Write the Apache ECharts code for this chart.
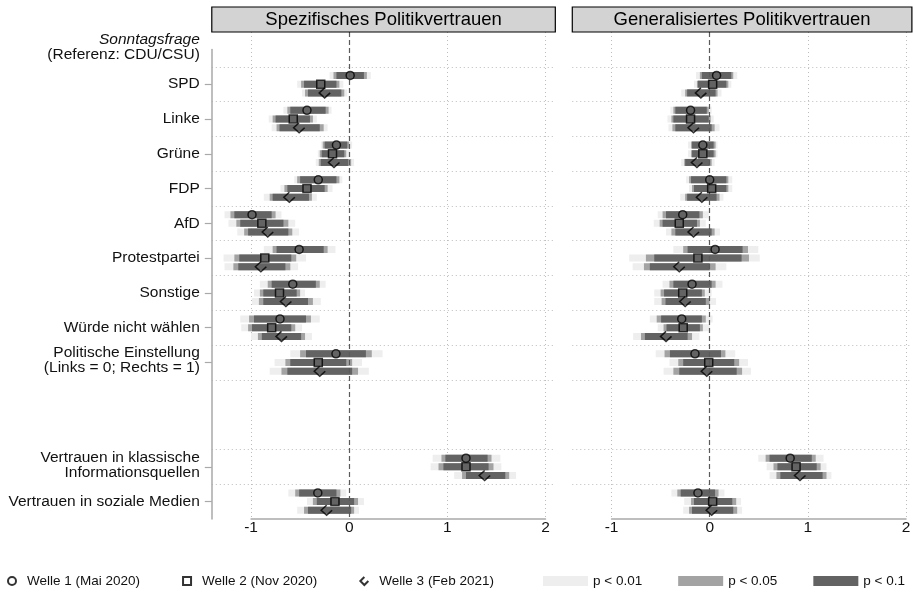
<!DOCTYPE html>
<html>
<head>
<meta charset="utf-8">
<script src="https://cdn.jsdelivr.net/npm/echarts@6/dist/echarts.min.js"></script>
<style>
  html, body { margin: 0; padding: 0; background: #fff; }
  #main { width: 913px; height: 593px; }
</style>
</head>
<body>
<div id="main"></div>
<script>
// Kategorien der y-Achse (Kopfzeile, Parteien, zwei Leerzeilen, Vertrauen)
const yCats = [
  'Sonntagsfrage\n(Referenz: CDU/CSU)', 'SPD', 'Linke', 'Grüne', 'FDP', 'AfD',
  'Protestpartei', 'Sonstige', 'Würde nicht wählen',
  'Politische Einstellung\n(Links = 0; Rechts = 1)', ' ', '  ',
  'Vertrauen in klassische\nInformationsquellen', 'Vertrauen in soziale Medien'
];
const rows = [
  'SPD', 'Linke', 'Grüne', 'FDP', 'AfD', 'Protestpartei', 'Sonstige',
  'Würde nicht wählen', 'Politische Einstellung\n(Links = 0; Rechts = 1)',
  'Vertrauen in klassische\nInformationsquellen', 'Vertrauen in soziale Medien'
];
const xTicks = [-1, 0, 1, 2];
const panelTitles = ['Spezifisches Politikvertrauen', 'Generalisiertes Politikvertrauen'];
const waves = ['Welle 1 (Mai 2020)', 'Welle 2 (Nov 2020)', 'Welle 3 (Feb 2021)'];
const levels = ['p < 0.01', 'p < 0.05', 'p < 0.1'];

// je Zeile: [u99, u95, u90, Koeffizient, o90, o95, o99]
const spezW1 = [
  [-0.20, -0.16, -0.13, 0.01, 0.15, 0.18, 0.22],
  [-0.67, -0.63, -0.60, -0.43, -0.24, -0.21, -0.18],
  [-0.29, -0.27, -0.25, -0.13, -0.02, 0.00, 0.03],
  [-0.56, -0.53, -0.50, -0.315, -0.13, -0.10, -0.07],
  [-1.27, -1.21, -1.17, -0.99, -0.79, -0.75, -0.69],
  [-0.87, -0.78, -0.74, -0.51, -0.26, -0.22, -0.14],
  [-0.91, -0.83, -0.79, -0.575, -0.34, -0.30, -0.24],
  [-1.11, -1.02, -0.97, -0.705, -0.44, -0.39, -0.30],
  [-0.60, -0.50, -0.44, -0.135, 0.17, 0.23, 0.34],
  [0.85, 0.94, 0.98, 1.19, 1.41, 1.45, 1.54],
  [-0.62, -0.55, -0.51, -0.32, -0.13, -0.09, -0.03]
];
const spezW2 = [
  [-0.53, -0.49, -0.46, -0.29, -0.13, -0.10, -0.06],
  [-0.82, -0.78, -0.75, -0.57, -0.40, -0.37, -0.33],
  [-0.32, -0.30, -0.28, -0.17, -0.05, -0.03, 0.01],
  [-0.70, -0.66, -0.63, -0.43, -0.25, -0.22, -0.17],
  [-1.23, -1.15, -1.11, -0.89, -0.67, -0.62, -0.55],
  [-1.28, -1.17, -1.12, -0.86, -0.59, -0.54, -0.44],
  [-0.97, -0.91, -0.875, -0.71, -0.535, -0.50, -0.45],
  [-1.10, -1.03, -0.99, -0.79, -0.59, -0.55, -0.48],
  [-0.76, -0.65, -0.60, -0.315, -0.03, 0.03, 0.13],
  [0.83, 0.91, 0.96, 1.19, 1.42, 1.47, 1.55],
  [-0.43, -0.37, -0.33, -0.145, 0.05, 0.09, 0.15]
];
const spezW3 = [
  [-0.48, -0.45, -0.42, -0.25, -0.08, -0.05, -0.02],
  [-0.79, -0.74, -0.71, -0.51, -0.30, -0.26, -0.22],
  [-0.34, -0.31, -0.29, -0.155, -0.01, 0.02, 0.05],
  [-0.87, -0.81, -0.78, -0.61, -0.41, -0.38, -0.33],
  [-1.14, -1.07, -1.03, -0.83, -0.62, -0.58, -0.51],
  [-1.27, -1.18, -1.13, -0.90, -0.65, -0.60, -0.52],
  [-0.99, -0.92, -0.875, -0.645, -0.42, -0.37, -0.29],
  [-1.00, -0.93, -0.89, -0.69, -0.49, -0.45, -0.38],
  [-0.81, -0.69, -0.63, -0.30, 0.03, 0.09, 0.20],
  [1.07, 1.15, 1.19, 1.38, 1.59, 1.63, 1.70],
  [-0.53, -0.46, -0.42, -0.23, 0.02, 0.05, 0.10]
];
const genW1 = [
  [-0.14, -0.10, -0.08, 0.07, 0.22, 0.24, 0.28],
  [-0.40, -0.37, -0.35, -0.195, -0.03, -0.01, 0.02],
  [-0.22, -0.19, -0.18, -0.07, 0.04, 0.06, 0.08],
  [-0.24, -0.21, -0.19, 0.00, 0.17, 0.19, 0.23],
  [-0.53, -0.48, -0.445, -0.275, -0.105, -0.07, -0.01],
  [-0.37, -0.27, -0.225, 0.055, 0.335, 0.39, 0.495],
  [-0.48, -0.41, -0.37, -0.18, 0.02, 0.06, 0.13],
  [-0.61, -0.54, -0.495, -0.285, -0.08, -0.04, 0.03],
  [-0.55, -0.46, -0.405, -0.15, 0.115, 0.16, 0.26],
  [0.495, 0.57, 0.61, 0.82, 1.04, 1.08, 1.16],
  [-0.39, -0.33, -0.295, -0.12, 0.055, 0.09, 0.15]
];
const genW2 = [
  [-0.16, -0.13, -0.12, 0.03, 0.17, 0.19, 0.22],
  [-0.43, -0.39, -0.37, -0.195, -0.01, 0.01, 0.04],
  [-0.22, -0.19, -0.18, -0.07, 0.04, 0.06, 0.08],
  [-0.21, -0.18, -0.16, 0.02, 0.17, 0.19, 0.23],
  [-0.57, -0.51, -0.48, -0.31, -0.13, -0.10, -0.04],
  [-0.82, -0.65, -0.565, -0.12, 0.325, 0.40, 0.51],
  [-0.565, -0.50, -0.465, -0.275, -0.08, -0.05, 0.02],
  [-0.53, -0.47, -0.44, -0.27, -0.10, -0.07, 0.00],
  [-0.41, -0.32, -0.27, -0.01, 0.25, 0.30, 0.39],
  [0.58, 0.65, 0.69, 0.88, 1.09, 1.13, 1.19],
  [-0.26, -0.19, -0.16, 0.03, 0.23, 0.27, 0.32]
];
const genW3 = [
  [-0.29, -0.25, -0.23, -0.09, 0.06, 0.08, 0.12],
  [-0.42, -0.38, -0.35, -0.165, 0.02, 0.05, 0.10],
  [-0.29, -0.26, -0.25, -0.13, 0.00, 0.02, 0.05],
  [-0.30, -0.25, -0.23, -0.08, 0.07, 0.10, 0.14],
  [-0.445, -0.39, -0.35, -0.165, 0.02, 0.05, 0.105],
  [-0.785, -0.67, -0.61, -0.31, 0.00, 0.06, 0.17],
  [-0.565, -0.49, -0.45, -0.25, -0.04, 0.00, 0.065],
  [-0.78, -0.70, -0.66, -0.445, -0.225, -0.18, -0.105],
  [-0.47, -0.37, -0.31, -0.03, 0.275, 0.33, 0.42],
  [0.61, 0.68, 0.72, 0.92, 1.15, 1.19, 1.24],
  [-0.27, -0.21, -0.18, 0.02, 0.24, 0.28, 0.33]
];
const panelData = [[spezW1, spezW2, spezW3], [genW1, genW2, genW3]];

// Layout / Stil
const FONT = "'Liberation Sans', Arial, sans-serif";
const U = 98.15;                 // px je Einheit auf der x-Achse
const TOP = 32, BOTTOM = 519;
const panelsLayout = [
  { zero: 349.2, min: -1.4, max: 2.1 },
  { zero: 709.7, min: -1.4, max: 2.06 }
];
const yMin = -1.5, yMax = yCats.length - 1.5;
const unitY = (BOTTOM - TOP) / (yMax - yMin);
const waveOffset = [-0.25, 0, 0.25];
const checkPath = 'path://M5,0 L0,5 L5,10 L10,5';
const waveSymbols = ['circle', 'rect', checkPath];
const waveSizes = [8, 8, [11, 10]];
const legendIcons = ['circle', 'path://M0,0 L10,0 L10,10 L0,10 Z', checkPath];
const levelColors = ['#eeeeee', '#a3a3a3', '#636363'];
const levelIdx = [[0, 6], [1, 5], [2, 4]];
const BAR_H = 7;
const dotted = { color: '#bdbdbd', type: [1, 3], width: 1 };
const axisGray = '#a9a9a9';

const rowPos = rows.map(r => yCats.indexOf(r) - 1);

const grid = [], xAxis = [], yAxis = [], series = [], graphic = [];

function renderBar(params, api) {
  const a = api.coord([api.value(0), api.value(2)]);
  const b = api.coord([api.value(1), api.value(2)]);
  return {
    type: 'rect',
    shape: { x: a[0], y: a[1] - BAR_H / 2, width: b[0] - a[0], height: BAR_H },
    style: { fill: api.visual('color') }
  };
}

panelsLayout.forEach((pl, p) => {
  const left = pl.zero + pl.min * U;
  const width = (pl.max - pl.min) * U;
  const gData = grid.length;
  grid.push({ left: left, width: width, top: TOP, height: BOTTOM - TOP, outerBoundsMode: 'none' });
  const gDeco = grid.length;
  grid.push({ left: pl.zero - U, width: 3 * U, top: TOP, height: BOTTOM - TOP, outerBoundsMode: 'none' });

  const xData = xAxis.length;
  xAxis.push({ type: 'value', gridIndex: gData, min: pl.min, max: pl.max, show: false });
  xAxis.push({
    type: 'value', gridIndex: gDeco, min: xTicks[0], max: xTicks[xTicks.length - 1], interval: 1,
    axisLine: { show: true, onZero: false, lineStyle: { color: axisGray, width: 1.5 } },
    axisTick: { show: false },
    axisLabel: { fontFamily: FONT, fontSize: 15.5, color: '#111', margin: 1 },
    splitLine: { show: true, lineStyle: dotted }
  });
  yAxis.push({
    type: 'category', gridIndex: gData, inverse: true, position: 'left', data: yCats.map(c => ({
      value: c, textStyle: c.indexOf('\n') >= 0 ? { padding: [0, 0, 4, 0] } : {}
    })),
    boundaryGap: true,
    axisLine: { show: false, onZero: false },
    axisTick: {
      show: p === 0, alignWithLabel: true, length: 7,
      interval: (i, v) => i > 0 && v.trim() !== '',
      lineStyle: { color: axisGray, width: 1.2 }
    },
    axisLabel: {
      show: p === 0, interval: 0, margin: 12, fontFamily: FONT, fontSize: 15.5,
      lineHeight: 15, color: '#111', align: 'right',
      formatter: (v, i) => i === 0 ? '{it|Sonntagsfrage}\n(Referenz: CDU/CSU)' : v,
      rich: { it: { fontStyle: 'italic', fontFamily: FONT, fontSize: 15.5, lineHeight: 15, color: '#111' } }
    },
    splitLine: {
      show: true, showMinLine: false, showMaxLine: false,
      interval: (i, v) => v !== '  ',
      lineStyle: dotted
    }
  });
  const yData = yAxis.length;
  yAxis.push({ type: 'value', gridIndex: gData, min: yMin, max: yMax, inverse: true, show: false, position: 'right' });
  yAxis.push({ type: 'value', gridIndex: gDeco, min: yMin, max: yMax, inverse: true, show: false });

  // Balken: 99 %, 95 %, 90 %
  levels.forEach((lv, L) => {
    const d = [];
    panelData[p].forEach((wd, w) => {
      wd.forEach((r, i) => {
        d.push([r[levelIdx[L][0]], r[levelIdx[L][1]], rowPos[i] + waveOffset[w]]);
      });
    });
    const s = {
      type: 'custom', name: lv, xAxisIndex: xData, yAxisIndex: yData,
      renderItem: renderBar, data: d, encode: { x: [0, 1], y: 2 },
      itemStyle: { color: levelColors[L] }, z: 2 + L, silent: true, animation: false
    };
    if (L === 0) {
      s.markLine = {
        silent: true, symbol: ['none', 'none'], label: { show: false },
        lineStyle: { color: '#5a5a5a', type: [5, 3], width: 1.2 },
        data: [{ xAxis: 0 }], animation: false
      };
    }
    series.push(s);
  });

  // Punktschätzer
  waves.forEach((wn, w) => {
    series.push({
      type: 'scatter', name: wn, xAxisIndex: xData, yAxisIndex: yData,
      symbol: waveSymbols[w], symbolSize: waveSizes[w],
      itemStyle: { color: 'rgba(0,0,0,0)', borderColor: '#000', borderWidth: 1.5 },
      data: panelData[p][w].map((r, i) => [r[3], rowPos[i] + waveOffset[w]]),
      z: 10, silent: true, animation: false, clip: false
    });
  });

  // Kopfbox des Panels
  graphic.push({
    type: 'rect', shape: { x: left, y: 7, width: width, height: 25 },
    style: { fill: '#d3d3d3', stroke: '#000', lineWidth: 1.2 }, z: 100
  });
  graphic.push({
    type: 'text', x: left + width / 2, y: 19.5,
    style: { text: panelTitles[p], fontFamily: FONT, fontSize: 18.5, fill: '#000', align: 'center', verticalAlign: 'middle' },
    z: 101
  });
});

// senkrechte Achsenlinie links (nur ab Kopfzeile)
const gLine = grid.length;
grid.push({ left: panelsLayout[0].zero + panelsLayout[0].min * U, width: 1, top: TOP + 0.5 * unitY, height: BOTTOM - TOP - 0.5 * unitY, outerBoundsMode: 'none' });
xAxis.push({ type: 'value', gridIndex: gLine, show: false });
yAxis.push({
  type: 'value', gridIndex: gLine, position: 'left',
  axisLine: { show: true, onZero: false, lineStyle: { color: axisGray, width: 1.5 } },
  axisTick: { show: false }, axisLabel: { show: false }, splitLine: { show: false }
});

const chart = echarts.init(document.getElementById('main'), null, { renderer: 'canvas' });
chart.setOption({
  animation: false,
  backgroundColor: '#fff',
  textStyle: { fontFamily: FONT },
  grid: grid,
  xAxis: xAxis,
  yAxis: yAxis,
  graphic: graphic,
  legend: [
    {
      left: 2, top: 569, itemWidth: 20, itemHeight: 8, itemGap: 42, selectedMode: false,
      textStyle: { fontFamily: FONT, fontSize: 13.5, color: '#111' },
      data: waves.map((n, w) => ({ name: n, icon: legendIcons[w] }))
    },
    {
      left: 538, top: 569, itemWidth: 45, itemHeight: 10, itemGap: 36, selectedMode: false,
      textStyle: { fontFamily: FONT, fontSize: 13.5, color: '#111' },
      data: levels.map(n => ({ name: n, icon: 'rect' }))
    }
  ],
  series: series
});
</script>
</body>
</html>
